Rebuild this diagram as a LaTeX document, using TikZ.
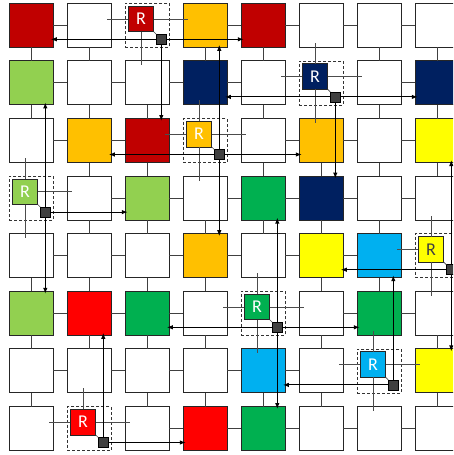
\documentclass[tikz,border=0pt]{standalone}
\usepackage{fontspec}
\setsansfont{Carlito}
\usetikzlibrary{arrows.meta,calc}
\definecolor{cDR}{HTML}{C00000}
\definecolor{cGD}{HTML}{FFC000}
\definecolor{cNV}{HTML}{002060}
\definecolor{cLG}{HTML}{92D050}
\definecolor{cYL}{HTML}{FFFF00}
\definecolor{cGN}{HTML}{00B050}
\definecolor{cLB}{HTML}{00B0F0}
\definecolor{cRD}{HTML}{FF0000}
\definecolor{cW}{HTML}{FFFFFF}
\definecolor{cBox}{HTML}{404040}
\tikzset{
  tile/.style={draw=black!85, line width=0.9pt, minimum size=44pt, inner sep=0pt, outer sep=0pt},
  rbox/.style={draw=black!80, line width=0.8pt, dash pattern=on 3pt off 2pt, minimum size=44pt, inner sep=0pt, outer sep=0pt},
  rsq/.style={draw=black!85, line width=0.8pt, minimum size=25.5pt, inner sep=0pt, outer sep=0pt, text=white, font=\sffamily\fontsize{18}{18}\selectfont},
  gbox/.style={draw=black, line width=0.8pt, fill=cBox, minimum size=10pt, inner sep=0pt, outer sep=0pt},
  link/.style={draw=black!75, line width=1pt},
  rlink/.style={draw=black!70, line width=1pt},
  diag/.style={draw=black!70, line width=0.6pt},
  arr/.style={draw=black, line width=1.1pt, -{Latex[length=6pt,width=4.5pt]}, shorten >=-2.5pt}
}
\newcommand\rlL[2]{\draw[rlink] (R-#1.west) -- ($(R-#1 -| t-#2.east)+(-4.5,0)$);}
\newcommand\rlR[2]{\draw[rlink] (R-#1.east) -- ($(R-#1 -| t-#2.west)+(4.5,0)$);}
\newcommand\rlU[2]{\draw[rlink] (R-#1.north) -- ($(R-#1 |- t-#2.south)+(0,-4.5)$);}
\newcommand\rlD[2]{\draw[rlink] (R-#1.south) -- ($(R-#1 |- t-#2.north)+(0,4.5)$);}
\expandafter\def\csname rt-0-2\endcsname{}
\expandafter\def\csname rt-1-5\endcsname{}
\expandafter\def\csname rt-2-3\endcsname{}
\expandafter\def\csname rt-3-0\endcsname{}
\expandafter\def\csname rt-4-7\endcsname{}
\expandafter\def\csname rt-5-4\endcsname{}
\expandafter\def\csname rt-6-6\endcsname{}
\expandafter\def\csname rt-7-1\endcsname{}
\begin{document}
\begin{tikzpicture}[x=1pt,y=-1pt]
\useasboundingbox (0,0) rectangle (453,455);
\clip (0,0) rectangle (453,455);
% plain tiles
\foreach \r/\c/\col in {
 0/0/cDR,0/1/cW,0/3/cGD,0/4/cDR,0/5/cW,0/6/cW,0/7/cW,
 1/0/cLG,1/1/cW,1/2/cW,1/3/cNV,1/4/cW,1/6/cW,1/7/cNV,
 2/0/cW,2/1/cGD,2/2/cDR,2/4/cW,2/5/cGD,2/6/cW,2/7/cYL,
 3/1/cW,3/2/cLG,3/3/cW,3/4/cGN,3/5/cNV,3/6/cW,3/7/cW,
 4/0/cW,4/1/cW,4/2/cW,4/3/cGD,4/4/cW,4/5/cYL,4/6/cLB,
 5/0/cLG,5/1/cRD,5/2/cGN,5/3/cW,5/5/cW,5/6/cGN,5/7/cW,
 6/0/cW,6/1/cW,6/2/cW,6/3/cW,6/4/cLB,6/5/cW,6/7/cYL,
 7/0/cW,7/2/cW,7/3/cRD,7/4/cGN,7/5/cW,7/6/cW,7/7/cW}
 {\node[tile, fill=\col] (t-\r-\c) at ({31.3+58*\c},{25.3+57.6*\r}) {};}
% router tiles
\foreach \r/\c/\col/\tc in {0/2/cDR/white,1/5/cNV/white,2/3/cGD/white,3/0/cLG/white,
 4/7/cYL/cBox,5/4/cGN/white,6/6/cLB/white,7/1/cRD/white}
 {\node[rbox] (t-\r-\c) at ({31.3+58*\c},{25.3+57.6*\r}) {};
  \node[rsq, fill=\col, text=\tc] (R-\r-\c) at ($(t-\r-\c)+(-6.3,-6.3)$) {R};
  \node[gbox] (g-\r-\c) at ($(t-\r-\c)+(14,14)$) {};
  \draw[diag] (R-\r-\c.south east) -- (g-\r-\c.north west);}
% links between plain tiles
\foreach \r in {0,...,7}{\foreach \c in {0,...,6}{%
  \pgfmathtruncatemacro\cc{\c+1}%
  \ifcsname rt-\r-\c\endcsname\else\ifcsname rt-\r-\cc\endcsname\else
    \draw[link] (t-\r-\c.east) -- (t-\r-\cc.west);\fi\fi}}
\foreach \r in {0,...,6}{\foreach \c in {0,...,7}{%
  \pgfmathtruncatemacro\rr{\r+1}%
  \ifcsname rt-\r-\c\endcsname\else\ifcsname rt-\rr-\c\endcsname\else
    \draw[link] (t-\r-\c.south) -- (t-\rr-\c.north);\fi\fi}}
% router links
\rlL{0-2}{0-1}\rlR{0-2}{0-3}\rlD{0-2}{1-2}
\rlL{1-5}{1-4}\rlR{1-5}{1-6}\rlU{1-5}{0-5}\rlD{1-5}{2-5}
\rlL{2-3}{2-2}\rlR{2-3}{2-4}\rlU{2-3}{1-3}\rlD{2-3}{3-3}
\rlR{3-0}{3-1}\rlU{3-0}{2-0}\rlD{3-0}{4-0}
\rlL{4-7}{4-6}\rlU{4-7}{3-7}\rlD{4-7}{5-7}
\rlL{5-4}{5-3}\rlR{5-4}{5-5}\rlU{5-4}{4-4}\rlD{5-4}{6-4}
\rlL{6-6}{6-5}\rlR{6-6}{6-7}\rlU{6-6}{5-6}\rlD{6-6}{7-6}
\rlL{7-1}{7-0}\rlR{7-1}{7-2}\rlU{7-1}{6-1}
% multicast arrows
\draw[arr] (g-0-2) -- (g-0-2 -| t-0-0.east);
\draw[arr] (g-0-2) -- (g-0-2 -| t-0-4.west);
\draw[arr] (g-0-2) -- (g-0-2 |- t-2-2.north);
\draw[arr] (g-1-5) -- (g-1-5 -| t-1-3.east);
\draw[arr] (g-1-5) -- (g-1-5 -| t-1-7.west);
\draw[arr] (g-1-5) -- (g-1-5 |- t-3-5.north);
\draw[arr] (g-2-3) -- (g-2-3 -| t-2-1.east);
\draw[arr] (g-2-3) -- (g-2-3 -| t-2-5.west);
\draw[arr] (g-2-3) -- (g-2-3 |- t-0-3.south);
\draw[arr] (g-2-3) -- (g-2-3 |- t-4-3.north);
\draw[arr] (g-3-0) -- (g-3-0 -| t-3-2.west);
\draw[arr] (g-3-0) -- (g-3-0 |- t-1-0.south);
\draw[arr] (g-3-0) -- (g-3-0 |- t-5-0.north);
\draw[arr] (g-4-7) -- (g-4-7 -| t-4-5.east);
\draw[arr] (g-4-7) -- (g-4-7 |- t-2-7.south);
\draw[arr] (g-4-7) -- (g-4-7 |- t-6-7.north);
\draw[arr] (g-5-4) -- (g-5-4 -| t-5-2.east);
\draw[arr] (g-5-4) -- (g-5-4 -| t-5-6.west);
\draw[arr] (g-5-4) -- (g-5-4 |- t-3-4.south);
\draw[arr] (g-5-4) -- (g-5-4 |- t-7-4.north);
\draw[arr] (g-6-6) -- (g-6-6 -| t-6-4.east);
\draw[arr] (g-6-6) -- (g-6-6 |- t-4-6.south);
\draw[arr] (g-7-1) -- (g-7-1 -| t-7-3.west);
\draw[arr] (g-7-1) -- (g-7-1 |- t-5-1.south);
\end{tikzpicture}
\end{document}
